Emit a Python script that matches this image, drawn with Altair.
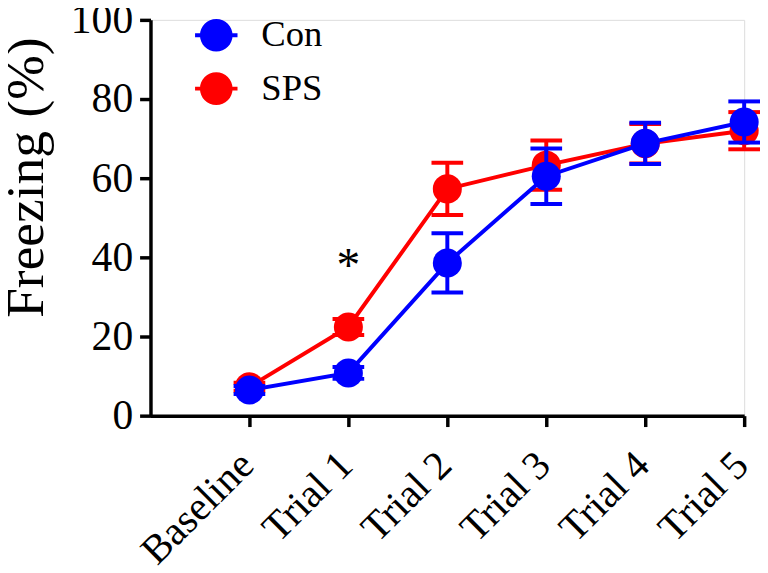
import altair as alt
import pandas as pd

trials = ["Baseline", "Trial 1", "Trial 2", "Trial 3", "Trial 4", "Trial 5"]
con_mean = [6.5, 10.8, 38.6, 60.5, 68.8, 74.2]
con_sem = [1.0, 1.5, 7.5, 7.0, 5.2, 5.2]
sps_mean = [7.3, 22.4, 57.3, 63.3, 68.7, 72.0]
sps_sem = [1.0, 2.0, 6.6, 6.2, 5.0, 4.7]
groups = ["Con", "SPS"]
colors = ["#0000ff", "#ff0000"]
star_trial = [1]
star_value = [34]
star_text = ["*"]

rows = []
for g, means, sems in [("Con", con_mean, con_sem), ("SPS", sps_mean, sps_sem)]:
    for i, (m, s) in enumerate(zip(means, sems)):
        rows.append({"idx": i, "trial": trials[i], "group": g, "mean": m,
                     "lo": m - s, "hi": m + s})
df = pd.DataFrame(rows)
star_df = pd.DataFrame({"idx": star_trial, "value": star_value, "text": star_text})

FONT = "Liberation Serif"
label_expr = "[" + ",".join("'%s'" % t for t in trials) + "][datum.value]"

xscale = alt.Scale(domain=[-1, 5], nice=False, zero=False)
yscale = alt.Scale(domain=[0, 100], nice=False)
cscale = alt.Scale(domain=groups, range=colors)

x_axis = alt.Axis(values=list(range(len(trials))), labelExpr=label_expr,
                  labelAngle=315, labelAlign="right", labelBaseline="alphabetic",
                  labelFontSize=41, labelFont=FONT, labelPadding=41, labelOffset=6,
                  labelOverlap=False, labelBound=False,
                  tickSize=11, tickWidth=3.5, domainWidth=3.5,
                  domainColor="black", tickColor="black", labelColor="black",
                  grid=False, title=None)
y_axis = alt.Axis(values=[0, 20, 40, 60, 80, 100], labelFontSize=42,
                  labelFont=FONT, labelPadding=7, tickSize=11, tickWidth=3.5,
                  labelOverlap=False,
                  domainWidth=3.5, domainColor="black", tickColor="black",
                  labelColor="black", grid=False, title="Freezing (%)",
                  titleFont=FONT, titleFontSize=54, titleFontWeight="normal",
                  titleColor="black", titleAngle=270, titleX=-109, titleY=159,
                  titleAlign="center", titleBaseline="alphabetic")

legend_path = ("M-1,0A1,1,0,1,1,1,0A1,1,0,1,1,-1,0Z "
               "M-1.3,-0.12L1.3,-0.12L1.3,0.12L-1.3,0.12Z")

legend = alt.Legend(
    title=None, orient="none", legendX=48, legendY=-3,
    symbolType=legend_path, symbolSize=1089, symbolStrokeWidth=0,
    symbolOpacity=1,
    labelFont=FONT, labelFontSize=37, labelColor="black",
    labelOffset=27, rowPadding=16, padding=0)

color = alt.Color("group:N", scale=cscale, legend=legend)

base = alt.Chart(df)


def series(g):
    sub = base.transform_filter(alt.datum.group == g)
    line = sub.mark_line(strokeWidth=4).encode(
        x=alt.X("idx:Q", scale=xscale, axis=x_axis),
        y=alt.Y("mean:Q", scale=yscale, axis=y_axis),
        color=color)
    rule = sub.mark_rule(strokeWidth=4, opacity=1).encode(
        x="idx:Q", y="lo:Q", y2="hi:Q", color=color)
    cap_lo = sub.mark_tick(orient="horizontal", size=32, thickness=4,
                           opacity=1).encode(x="idx:Q", y="lo:Q", color=color)
    cap_hi = sub.mark_tick(orient="horizontal", size=32, thickness=4,
                           opacity=1).encode(x="idx:Q", y="hi:Q", color=color)
    pts = sub.mark_circle(size=860, opacity=1).encode(
        x="idx:Q", y="mean:Q", color=color)
    return [line, rule, cap_lo, cap_hi, pts]


star = alt.Chart(star_df).mark_text(font=FONT, fontSize=48, baseline="alphabetic",
                                     color="black").encode(
    x="idx:Q", y="value:Q", text="text:N")

chart = alt.layer(*series("SPS"), *series("Con"), star).properties(
    width=600, height=400,
    autosize=alt.AutoSizeParams(type="none"),
    padding={"left": 144, "top": 9, "right": 16, "bottom": 156},
).configure_view(stroke=None).configure(background="white")

chart.save("out.html", embed_options={"renderer": "svg", "actions": False})
